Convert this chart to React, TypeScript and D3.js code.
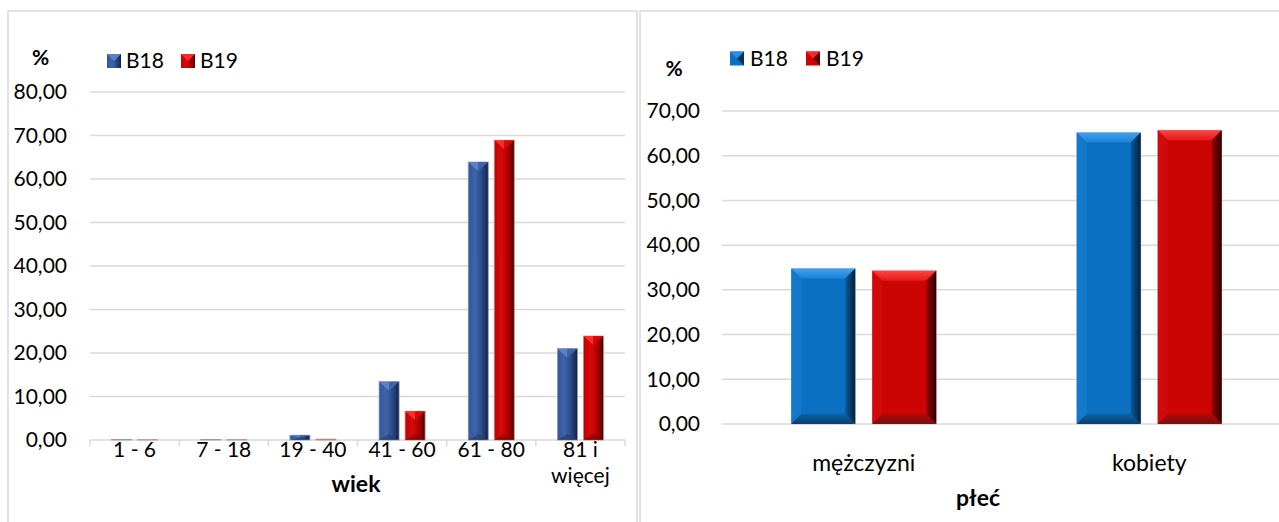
import React from 'react';
import * as d3 from 'd3';

// ---------- DATA ----------
const seriesNames = ['B18', 'B19'];

const ageCategories = ['1 - 6', '7 - 18', '19 - 40', '41 - 60', '61 - 80', '81 i więcej'];
const ageLabelLines = [['1 - 6'], ['7 - 18'], ['19 - 40'], ['41 - 60'], ['61 - 80'], ['81 i', 'więcej']];
const ageB18 = [0.1, 0.1, 1.1, 13.4, 63.9, 21.0];
const ageB19 = [0.05, 0.05, 0.2, 6.6, 68.9, 23.9];
const ageTicks = [0, 10, 20, 30, 40, 50, 60, 70, 80];
const ageAxisTitle = 'wiek';

const sexCategories = ['mężczyzni', 'kobiety'];
const sexB18 = [34.8, 65.2];
const sexB19 = [34.3, 65.7];
const sexTicks = [0, 10, 20, 30, 40, 50, 60, 70];
const sexAxisTitle = 'płeć';

const FONT = "Lato, 'Open Sans', sans-serif";
const FS = 21;
const fmt = (v: number) => d3.format('.2f')(v).replace('.', ',');

// ---------- LEFT (pyramid-top bars) ----------
function PyramidBar({ x, y, w, h, s }: { x: number; y: number; w: number; h: number; s: number }) {
  const d = Math.min(9, h / 2);
  const db = Math.min(6, h / 2);
  const topFill = s === 0 ? '#5a80c8' : '#ff2b2b';
  const topFill2 = s === 0 ? '#3f63a8' : '#d80808';
  const botFill = s === 0 ? '#22406f' : '#8a0000';
  return (
    <g>
      <rect x={x} y={y} width={w} height={h} fill={`url(#pg${s})`} stroke={s === 0 ? '#8d9bb8' : '#c08a8a'} strokeWidth={0.8} />
      {h > 2 && (
        <>
          <polygon points={`${x},${y} ${x + w / 2},${y} ${x + w / 2},${y + d}`} fill={topFill} />
          <polygon points={`${x + w / 2},${y} ${x + w},${y} ${x + w / 2},${y + d}`} fill={topFill2} />
          <polygon points={`${x},${y + h} ${x + w},${y + h} ${x + w / 2},${y + h - db}`} fill={botFill} opacity={0.7} />
        </>
      )}
    </g>
  );
}

function LeftChart() {
  const y = d3.scaleLinear().domain([0, 80]).range([440, 92]);
  const x0 = d3.scaleBand<string>().domain(ageCategories).range([90, 625]).paddingInner(0).paddingOuter(0);
  const x1 = d3.scaleBand<string>().domain(seriesNames).range([0, 46]).paddingInner(6 / 26).paddingOuter(0);
  const values = [ageB18, ageB19];
  const boundaries = [...ageCategories.map((c) => x0(c)!), 625];
  return (
    <g>
      {ageTicks.map((t) => (
        <g key={t}>
          <line x1={90} x2={625} y1={y(t)} y2={y(t)} stroke="#d9d9d9" strokeWidth={1.5} />
          <text x={67} y={y(t)} dy="0.35em" textAnchor="end" fontSize={FS} fill="#000">{fmt(t)}</text>
        </g>
      ))}
      {boundaries.map((b, i) => (
        <line key={i} x1={b} x2={b} y1={y(0)} y2={y(0) + 6} stroke="#d9d9d9" strokeWidth={1.5} />
      ))}
      {ageCategories.map((c, ci) => {
        const gx = x0(c)! + x0.bandwidth() / 2 - 23;
        return seriesNames.map((sn, si) => {
          const v = values[si][ci];
          const top = y(v);
          return <PyramidBar key={c + sn} x={gx + x1(sn)!} y={top} w={x1.bandwidth()} h={y(0) - top} s={si} />;
        });
      })}
      {ageCategories.map((c, ci) => (
        <text key={c} x={x0(c)! + x0.bandwidth() / 2} y={450} textAnchor="middle" fontSize={FS} fill="#000">
          {ageLabelLines[ci].map((l, li) => (
            <tspan key={li} x={x0(c)! + x0.bandwidth() / 2} dy={li === 0 ? '0.35em' : 26}>{l}</tspan>
          ))}
        </text>
      ))}
      <text x={356} y={484} dy="0.35em" textAnchor="middle" fontSize={23} fontWeight="bold">{ageAxisTitle}</text>
      <text x={40.5} y={58} dy="0.35em" textAnchor="middle" fontSize={FS} fontWeight="bold">%</text>
      {seriesNames.map((sn, i) => {
        const lx = [107, 181][i];
        return (
          <g key={sn}>
            <rect x={lx} y={54} width={14} height={14} fill={`url(#pg${i})`} />
            <polygon points={`${lx},54 ${lx + 14},54 ${lx + 7},61`} fill={i === 0 ? '#5a80c8' : '#ff2b2b'} />
            <text x={lx + 19} y={61} dy="0.35em" fontSize={FS}>{sn}</text>
          </g>
        );
      })}
    </g>
  );
}

// ---------- RIGHT (bevel bars) ----------
function BevelBar({ x, y, w, h, s }: { x: number; y: number; w: number; h: number; s: number }) {
  const b = Math.min(10, h / 2, w / 2);
  const main = s === 0 ? '#0a70c2' : '#cc0404';
  const left = s === 0 ? '#1479cb' : '#d20a0a';
  return (
    <g>
      <rect x={x} y={y} width={w} height={h} fill={main} stroke="#c8d0dc" strokeWidth={0.8} />
      <polygon points={`${x},${y} ${x + w},${y} ${x + w - b},${y + b} ${x + b},${y + b}`} fill={`url(#bt${s})`} />
      <polygon points={`${x},${y} ${x + b},${y + b} ${x + b},${y + h - b} ${x},${y + h}`} fill={left} />
      <polygon points={`${x + w},${y} ${x + w},${y + h} ${x + w - b},${y + h - b} ${x + w - b},${y + b}`} fill={`url(#br${s})`} />
      <polygon points={`${x},${y + h} ${x + b},${y + h - b} ${x + w - b},${y + h - b} ${x + w},${y + h}`} fill={`url(#bb${s})`} />
    </g>
  );
}

function RightChart() {
  const y = d3.scaleLinear().domain([0, 70]).range([424, 111]);
  const x0 = d3.scaleBand<string>().domain(sexCategories).range([721, 1292]).paddingInner(0).paddingOuter(0);
  const x1 = d3.scaleBand<string>().domain(seriesNames).range([0, 145]).paddingInner(17 / 81).paddingOuter(0);
  const values = [sexB18, sexB19];
  return (
    <g>
      {sexTicks.map((t) => (
        <g key={t}>
          <line x1={722} x2={1279} y1={y(t)} y2={y(t)} stroke="#d9d9d9" strokeWidth={1.5} />
          <text x={700} y={y(t)} dy="0.35em" textAnchor="end" fontSize={FS} fill="#000">{fmt(t)}</text>
        </g>
      ))}
      {sexCategories.map((c, ci) => {
        const gx = x0(c)! + x0.bandwidth() / 2 - 72.5;
        return seriesNames.map((sn, si) => {
          const v = values[si][ci];
          const top = y(v);
          return <BevelBar key={c + sn} x={gx + x1(sn)!} y={top} w={x1.bandwidth()} h={y(0) - top} s={si} />;
        });
      })}
      {sexCategories.map((c) => (
        <text key={c} x={x0(c)! + x0.bandwidth() / 2} y={463} dy="0.35em" textAnchor="middle" fontSize={23}>{c}</text>
      ))}
      <text x={978} y={498} dy="0.35em" textAnchor="middle" fontSize={23} fontWeight="bold">{sexAxisTitle}</text>
      <text x={674} y={69} dy="0.35em" textAnchor="middle" fontSize={FS} fontWeight="bold">%</text>
      {seriesNames.map((sn, i) => {
        const lx = [730, 806][i];
        return (
          <g key={sn}>
            <rect x={lx} y={51.5} width={14} height={14} fill={i === 0 ? '#0a70c2' : '#cc0404'} />
            <polygon points={`${lx + 14},51.5 ${lx + 14},65.5 ${lx + 7},58.5`} fill={i === 0 ? '#06325a' : '#5a0000'} />
            <polygon points={`${lx},51.5 ${lx + 14},51.5 ${lx + 7},58.5`} fill={i === 0 ? '#2a8ee0' : '#f02a2a'} />
            <text x={lx + 20} y={58.5} dy="0.35em" fontSize={FS}>{sn}</text>
          </g>
        );
      })}
    </g>
  );
}

export default function App() {
  return (
    <div style={{ position: 'absolute', left: 0, top: 0 }}>
      <svg width={1279} height={522} style={{ display: 'block', fontFamily: FONT }}>
        <defs>
          <linearGradient id="pg0" x1="0" x2="1" y1="0" y2="0">
            <stop offset="0" stopColor="#33569a" />
            <stop offset="0.35" stopColor="#3f64ab" />
            <stop offset="0.65" stopColor="#2d4c8a" />
            <stop offset="0.9" stopColor="#1b2f5a" />
            <stop offset="1" stopColor="#111d3a" />
          </linearGradient>
          <linearGradient id="pg1" x1="0" x2="1" y1="0" y2="0">
            <stop offset="0" stopColor="#c00000" />
            <stop offset="0.35" stopColor="#d80a0a" />
            <stop offset="0.65" stopColor="#b80000" />
            <stop offset="0.9" stopColor="#700000" />
            <stop offset="1" stopColor="#3e0000" />
          </linearGradient>
          <linearGradient id="bt0" x1="0" x2="0" y1="0" y2="1">
            <stop offset="0" stopColor="#44a2f0" />
            <stop offset="1" stopColor="#1a82d6" />
          </linearGradient>
          <linearGradient id="bt1" x1="0" x2="0" y1="0" y2="1">
            <stop offset="0" stopColor="#ff4444" />
            <stop offset="1" stopColor="#e41a1a" />
          </linearGradient>
          <linearGradient id="br0" x1="0" x2="1" y1="0" y2="0">
            <stop offset="0" stopColor="#0a5a9c" />
            <stop offset="1" stopColor="#061f3a" />
          </linearGradient>
          <linearGradient id="br1" x1="0" x2="1" y1="0" y2="0">
            <stop offset="0" stopColor="#9a0000" />
            <stop offset="1" stopColor="#2a0000" />
          </linearGradient>
          <linearGradient id="bb0" x1="0" x2="0" y1="0" y2="1">
            <stop offset="0" stopColor="#0c62a8" />
            <stop offset="1" stopColor="#0a3f70" />
          </linearGradient>
          <linearGradient id="bb1" x1="0" x2="0" y1="0" y2="1">
            <stop offset="0" stopColor="#b00808" />
            <stop offset="1" stopColor="#7a1010" />
          </linearGradient>
        </defs>
        <rect x={0} y={0} width={1279} height={522} fill="#fff" />
        <rect x={8} y={11} width={629} height={530} fill="none" stroke="#d9d9d9" strokeWidth={1.5} />
        <rect x={640} y={11} width={660} height={530} fill="none" stroke="#d9d9d9" strokeWidth={1.5} />
        <LeftChart />
        <RightChart />
      </svg>
    </div>
  );
}
